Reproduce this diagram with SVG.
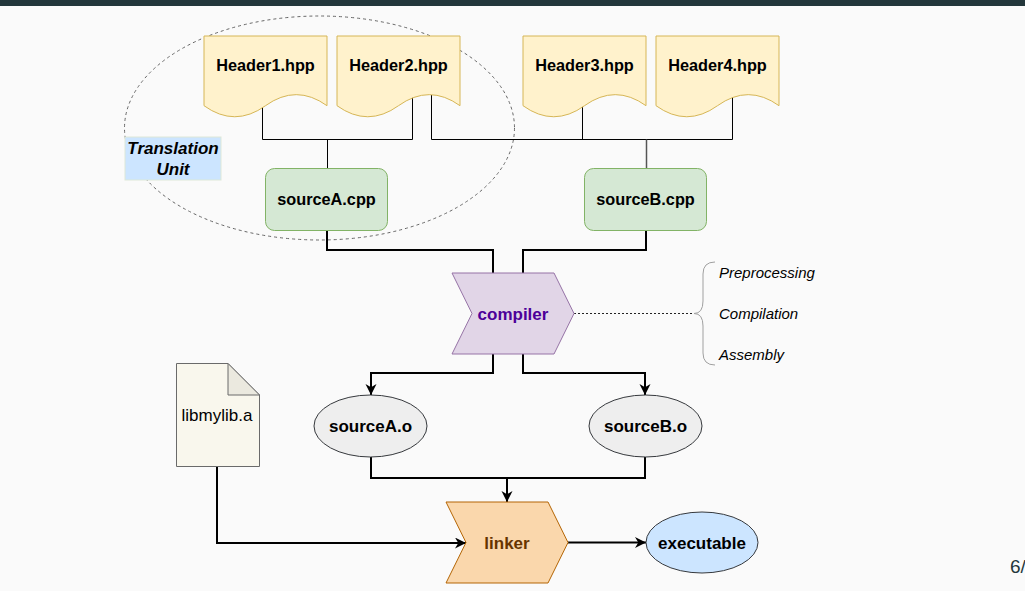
<svg xmlns="http://www.w3.org/2000/svg" width="1025" height="591" viewBox="0 0 1025 591">
  <style>
    text { font-family: "Liberation Sans", Arial, Helvetica, sans-serif; fill: #000; }
    .b16 { font-size: 16.3px; font-weight: bold; }
    .b17 { font-size: 17px; font-weight: bold; }
    .bi17 { font-size: 17px; font-weight: bold; font-style: italic; }
    .r17 { font-size: 17px; }
    .i15 { font-size: 15px; font-style: italic; }
    .hdr { fill: #fff2cc; stroke: #d6b656; stroke-width: 1; }
    .src { fill: #d5e8d4; stroke: #82b366; stroke-width: 1; }
    .obj { fill: #eeeeee; stroke: #36393d; stroke-width: 1; }
    .thin { fill: none; stroke: #000; stroke-width: 1; }
    .thick { fill: none; stroke: #000; stroke-width: 2; }
  </style>
  <defs>
    <!-- document shape with a wavy bottom edge -->
    <path id="doc" d="M0,0 H123 V69.7 Q92.25,47.6 61.5,69.7 Q30.75,91.8 0,69.7 Z"/>
    <marker id="arrow" markerUnits="userSpaceOnUse" markerWidth="13" markerHeight="13" refX="11" refY="5.5" orient="auto">
      <path d="M0,0 L11,5.5 L0,11 L3.3,5.5 Z" fill="#000"/>
    </marker>
  </defs>

  <!-- page background and title bar -->
  <rect x="0" y="0" width="1025" height="591" fill="#fafafa"/>
  <rect x="0" y="0" width="1025" height="6" fill="#23373b"/>

  <!-- translation unit outline -->
  <ellipse cx="319.5" cy="128" rx="195" ry="112" fill="none" stroke="#666" stroke-width="1" stroke-dasharray="3 3"/>

  <g id="connectors">
    <!-- headers to sources -->
    <path class="thin" d="M262.5,95 V139.5 H412.5 V95"/>
    <path class="thin" d="M327.5,139.5 V168"/>
    <path class="thin" d="M431.5,95 V139.5 H732.5 V95"/>
    <path class="thin" d="M582.5,95 V139.5"/>
    <path d="M646.5,139.5 V168" fill="none" stroke="#555" stroke-width="1.5"/>
    <!-- sources to compiler -->
    <path class="thick" d="M327,230 V250 H493 V273"/>
    <path class="thick" d="M646,230 V250 H523 V273"/>
    <!-- compiler to object files -->
    <path class="thick" d="M493,354 V373 H371 V395" marker-end="url(#arrow)"/>
    <path class="thick" d="M523,354 V373 H645 V395" marker-end="url(#arrow)"/>
    <!-- object files to linker -->
    <path class="thick" d="M371,457 V478 H645 V457"/>
    <path class="thick" d="M507,478 V502" marker-end="url(#arrow)"/>
    <!-- library to linker -->
    <path class="thick" d="M217,466 V543 H466" marker-end="url(#arrow)"/>
    <!-- linker to executable -->
    <path class="thick" d="M568,542.5 H646" marker-end="url(#arrow)"/>
    <!-- compiler stages annotation -->
    <path d="M574,313.5 H694" fill="none" stroke="#222" stroke-width="1" stroke-dasharray="2 2"/>
  </g>

  <g id="translation-unit-label">
    <rect x="125" y="137" width="96" height="43" fill="#cce5ff" stroke="#dde8d8" stroke-width="1"/>
    <text class="bi17" x="173" y="154" text-anchor="middle">Translation</text>
    <text class="bi17" x="173" y="175" text-anchor="middle">Unit</text>
  </g>

  <g id="header1">
    <use href="#doc" x="204" y="36" class="hdr"/>
    <text class="b16" x="265.5" y="71" text-anchor="middle">Header1.hpp</text>
  </g>
  <g id="header2">
    <use href="#doc" x="337" y="36" class="hdr"/>
    <text class="b16" x="398.5" y="71" text-anchor="middle">Header2.hpp</text>
  </g>
  <g id="header3">
    <use href="#doc" x="523" y="36" class="hdr"/>
    <text class="b16" x="584.5" y="71" text-anchor="middle">Header3.hpp</text>
  </g>
  <g id="header4">
    <use href="#doc" x="656" y="36" class="hdr"/>
    <text class="b16" x="717.5" y="71" text-anchor="middle">Header4.hpp</text>
  </g>

  <g id="sourceA-cpp">
    <rect class="src" x="265.5" y="168.5" width="122" height="62" rx="9"/>
    <text class="b16" x="326.5" y="205" text-anchor="middle">sourceA.cpp</text>
  </g>
  <g id="sourceB-cpp">
    <rect class="src" x="584.5" y="168.5" width="122" height="62" rx="9"/>
    <text class="b16" x="645.5" y="205" text-anchor="middle">sourceB.cpp</text>
  </g>

  <g id="compiler">
    <polygon points="452,273 554,273 574,313.5 554,354 452,354 472,313.5" fill="#e1d5e7" stroke="#9673a6" stroke-width="1"/>
    <text class="b17" x="513" y="319.5" text-anchor="middle" style="fill:#4c0099">compiler</text>
  </g>

  <g id="stages">
    <path d="M715,262 Q703,262 703,274 V301 Q703,313.5 694,313.5 Q703,313.5 703,326 V353 Q703,365 715,365" fill="none" stroke="#a0a0a0" stroke-width="1"/>
    <text class="i15" x="719" y="278">Preprocessing</text>
    <text class="i15" x="719" y="319">Compilation</text>
    <text class="i15" x="719" y="360">Assembly</text>
  </g>

  <g id="sourceA-o">
    <ellipse class="obj" cx="370.5" cy="426" rx="56.5" ry="31"/>
    <text class="b17" x="370.5" y="432" text-anchor="middle">sourceA.o</text>
  </g>
  <g id="sourceB-o">
    <ellipse class="obj" cx="645.5" cy="426" rx="56.5" ry="31"/>
    <text class="b17" x="645.5" y="432" text-anchor="middle">sourceB.o</text>
  </g>

  <g id="libmylib">
    <path d="M176.5,363.5 H228 L259.5,395 V466.5 H176.5 Z" fill="#f9f7ed" stroke="#6a6a6a" stroke-width="1"/>
    <path d="M228,363.5 V395 H259.5 Z" fill="#ebe9df" stroke="#6a6a6a" stroke-width="1"/>
    <text class="r17" x="217" y="421" text-anchor="middle">libmylib.a</text>
  </g>

  <g id="linker">
    <polygon points="446,502 548,502 568,542.5 548,583 446,583 466,542.5" fill="#fad7ac" stroke="#b46504" stroke-width="1"/>
    <text class="b17" x="507" y="548.5" text-anchor="middle" style="fill:#663300">linker</text>
  </g>

  <g id="executable">
    <ellipse cx="702" cy="542.5" rx="56" ry="30.5" fill="#cce5ff" stroke="#36393d" stroke-width="1"/>
    <text class="b17" x="702" y="548.5" text-anchor="middle">executable</text>
  </g>

  <!-- page number -->
  <text x="1010" y="573" style="font-size:19px; fill:#23373b">6/</text>
</svg>
